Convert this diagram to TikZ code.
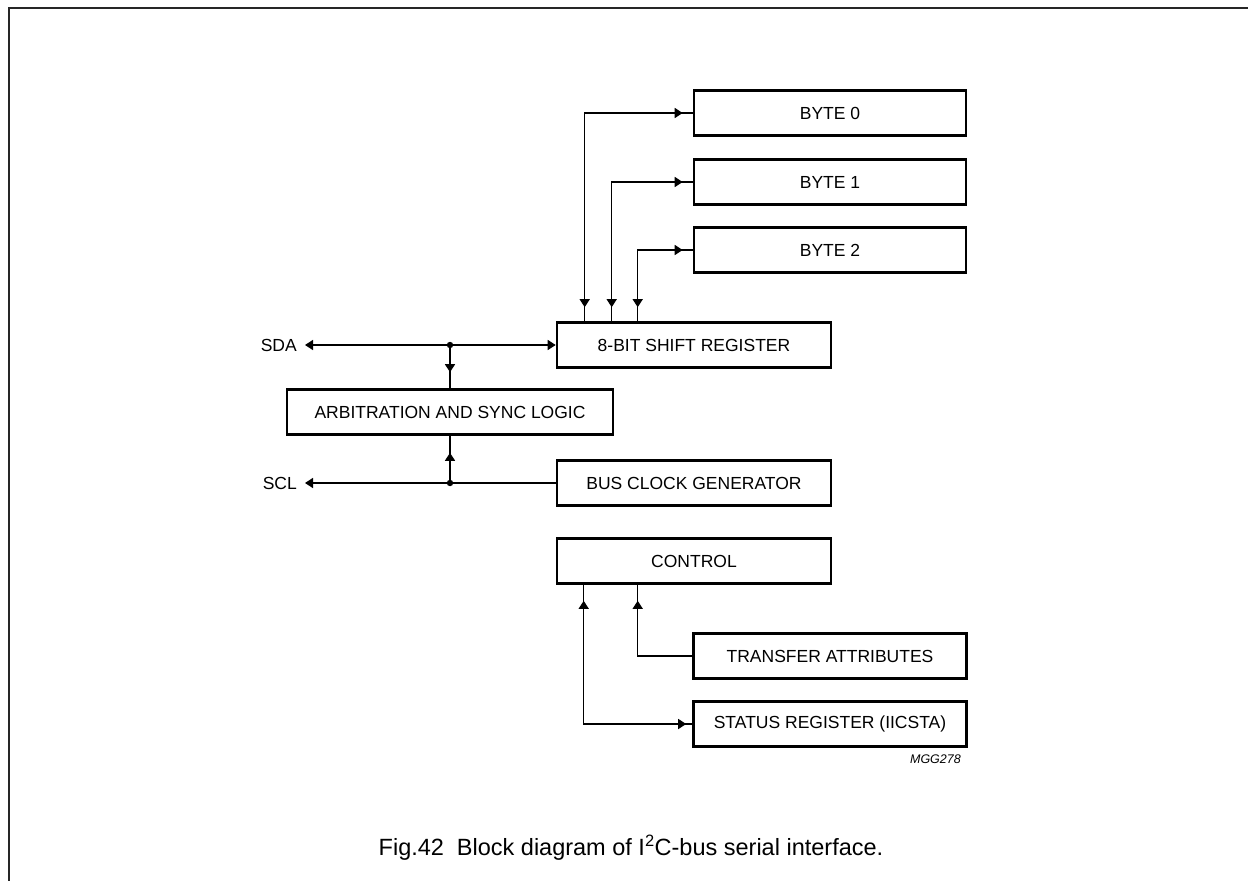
\documentclass[tikz,border=0pt]{standalone}
\usepackage{fontspec}
\setmainfont{Liberation Sans}
\usetikzlibrary{arrows.meta,decorations.markings}

\tikzset{
  bloque/.style={draw, line width=2.6pt, minimum height=45pt, inner sep=0pt,
    font=\fontsize{17.5}{20}\selectfont},
  linea/.style={line width=1.4pt},
  punta/.tip={Triangle[length=8pt,width=10pt]},
  ida/.style={postaction=decorate, decoration={markings,
    mark=at position -#1 with {\arrow{punta}}}},
  ambas/.style 2 args={postaction=decorate, decoration={markings,
    mark=at position #1 with {\arrowreversed{punta}},
    mark=at position -#2 with {\arrow{punta}}}},
  rotulo/.style={font=\fontsize{17.5}{20}\selectfont, inner sep=0pt}
}

\begin{document}
\begin{tikzpicture}[x=1pt, y=-1pt]
  \useasboundingbox (0,0) rectangle (1248,881);
  % marco
  \draw[line width=2pt, black!85] (9,881) -- (9,8) -- (1248,8);

  % registros
  \node[bloque, minimum width=272pt] (byte0) at (830,113) {BYTE 0};
  \node[bloque, minimum width=272pt] (byte1) at (830,182) {BYTE 1};
  \node[bloque, minimum width=272pt] (byte2) at (830,250) {BYTE 2};
  \node[bloque, minimum width=274pt] (shift) at (694,345) {8-BIT SHIFT REGISTER};
  \node[bloque, minimum width=326pt] (arb) at (450,412) {ARBITRATION AND SYNC LOGIC};
  \node[bloque, minimum width=274pt] (clk) at (694,483) {BUS CLOCK GENERATOR};
  \node[bloque, minimum width=274pt] (ctrl) at (694,561) {CONTROL};
  \node[bloque, minimum width=273pt] (attr) at (830,656) {TRANSFER ATTRIBUTES};
  \node[bloque, minimum width=273pt] (status) at (830,724) {STATUS REGISTER (IICSTA)};

  % bytes <-> registro
  \coordinate (t0) at ([xshift=29pt]shift.north west);
  \coordinate (t1) at ([xshift=56pt]shift.north west);
  \coordinate (t2) at ([xshift=82pt]shift.north west);
  \draw[linea, ambas={14pt}{10pt}] (t0) |- (byte0.west);
  \draw[linea, ambas={14pt}{10pt}] (t1) |- (byte1.west);
  \draw[linea, ambas={14pt}{10pt}] (t2) |- (byte2.west);

  % bus
  \coordinate (sda) at (305,345);
  \coordinate (scl) at (305,483);
  \coordinate (nsda) at (arb.north |- shift.west);
  \coordinate (nscl) at (arb.south |- clk.west);
  \node[rotulo, anchor=east] (lsda) at ([xshift=-8pt]sda) {SDA};
  \node[rotulo, anchor=east] (lscl) at ([xshift=-8pt]scl) {SCL};
  \draw[linea, {punta}-{punta}] (sda) -- (shift.west);
  \draw[linea, -{punta}] (clk.west) -- (scl);
  \draw[linea, ida={16pt}] (nsda) -- (arb.north);
  \draw[linea, ida={17pt}] (nscl) -- (arb.south);
  \fill (nsda) circle (3.2pt);
  \fill (nscl) circle (3.2pt);

  % control
  \coordinate (c0) at ([xshift=28pt]ctrl.south west);
  \coordinate (c1) at ([xshift=82pt]ctrl.south west);
  \draw[linea, ambas={16pt}{6pt}] (c0) |- (status.west);
  \draw[linea, ida={16pt}] (attr.west) -| (c1);

  \node[anchor=east, inner sep=0pt, font=\fontsize{12.5}{14}\selectfont\itshape] (codigo) at (961,759) {MGG278};
  \node[font=\fontsize{23.5}{28}\selectfont] (titulo) at (631,848)
    {Fig.42\hspace{0.55em}Block diagram of I\textsuperscript{2}C-bus serial interface.};
\end{tikzpicture}
\end{document}
